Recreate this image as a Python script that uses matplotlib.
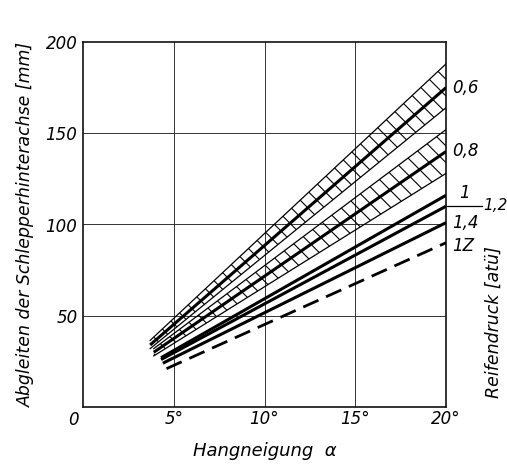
import matplotlib
matplotlib.use('Agg')
import matplotlib.pyplot as plt

# Data
labels = ['0,6', '0,8', '1', '1,2', '1,4', '1Z']
alpha_start = [3.7, 3.9, 4.3, 4.3, 4.4, 4.6]
alpha_end = [20, 20, 20, 20, 20, 20]
value_start = [34, 30, 27, 26, 24, 21]
value_end = [175, 140, 116, 110, 101, 90]

# scatter bands (hatched) for 0,6 and 0,8
band_labels = ['0,6', '0,8']
band_lower_start = [32, 28]
band_upper_start = [36.5, 32]
band_lower_end = [164, 128]
band_upper_end = [188, 152]

x_ticks = [5, 10, 15, 20]
x_ticklabels = ['5°', '10°', '15°', '20°']
y_ticks = [50, 100, 150, 200]
y_ticklabels = ['50', '100', '150', '200']

plt.rcParams['font.family'] = ['DejaVu Sans']
plt.rcParams['hatch.linewidth'] = 0.8

fig = plt.figure(figsize=(5.07, 4.65), dpi=100)
ax = fig.add_axes([83 / 507, 1 - 407 / 465, (446 - 83) / 507, (407 - 42) / 465])
ax.set_xlim(0, 20)
ax.set_ylim(0, 200)

# grid
for xv in x_ticks[:-1]:
    ax.axvline(xv, color='#333333', lw=0.7, zorder=1)
for yv in y_ticks[:-1]:
    ax.axhline(yv, color='#333333', lw=0.7, zorder=1)

for s in ax.spines.values():
    s.set_linewidth(1.2)
    s.set_color('#111111')

# bands
for i, lab in enumerate(band_labels):
    j = labels.index(lab)
    xs = [alpha_start[j], alpha_end[j]]
    lo = [band_lower_start[i], band_lower_end[i]]
    hi = [band_upper_start[i], band_upper_end[i]]
    ax.fill_between(xs, lo, hi, facecolor='none', edgecolor='black',
                    hatch='\\\\', linewidth=0, zorder=2)
    ax.plot(xs, lo, color='black', lw=0.9, zorder=3)
    ax.plot(xs, hi, color='black', lw=0.9, zorder=3)

# main lines
for j, lab in enumerate(labels):
    xs = [alpha_start[j], alpha_end[j]]
    ys = [value_start[j], value_end[j]]
    if lab == '1Z':
        ax.plot(xs, ys, color='black', lw=2.0, dashes=(6, 3), zorder=4,
                solid_capstyle='butt')
    else:
        ax.plot(xs, ys, color='black', lw=2.2, zorder=4, solid_capstyle='butt')

# right-hand labels
lab_font = dict(fontsize=12, style='italic', va='center', ha='left')
offsets = {'0,6': (0.35, 0), '0,8': (0.35, 0), '1': (0.75, 1.5),
           '1,2': (2.05, 0.5), '1,4': (0.35, 0), '1Z': (0.35, -2)}
for j, lab in enumerate(labels):
    dx, dy = offsets[lab]
    fs = 11 if lab == '1,2' else 12
    ax.text(alpha_end[j] + dx, value_end[j] + dy, lab, clip_on=False,
            **{**lab_font, 'fontsize': fs})
j12 = labels.index('1,2')
ax.plot([alpha_end[j12], alpha_end[j12] + 2.0], [value_end[j12], value_end[j12]],
        color='black', lw=0.9, clip_on=False)

# ticks
ax.set_xticks(x_ticks)
ax.set_xticklabels(x_ticklabels, fontsize=12, style='italic')
ax.set_yticks(y_ticks)
ax.set_yticklabels(y_ticklabels, fontsize=12, style='italic')
ax.tick_params(axis='x', length=0, pad=2)
ax.tick_params(axis='y', length=0, pad=4)
ax.text(-0.55, -2, '0', fontsize=12, style='italic', ha='center', va='top',
        clip_on=False)

ax.set_xlabel('Hangneigung  α', fontsize=13, style='italic', labelpad=10)
ax.set_ylabel('Abgleiten der Schlepperhinterachse [mm]', fontsize=12.5,
              style='italic', labelpad=8)
fig.text(494 / 507, 1 - 322 / 465, 'Reifendruck [atü]', rotation=90,
         fontsize=12.5, style='italic', ha='center', va='center')

fig.savefig('out.png', dpi=100)
